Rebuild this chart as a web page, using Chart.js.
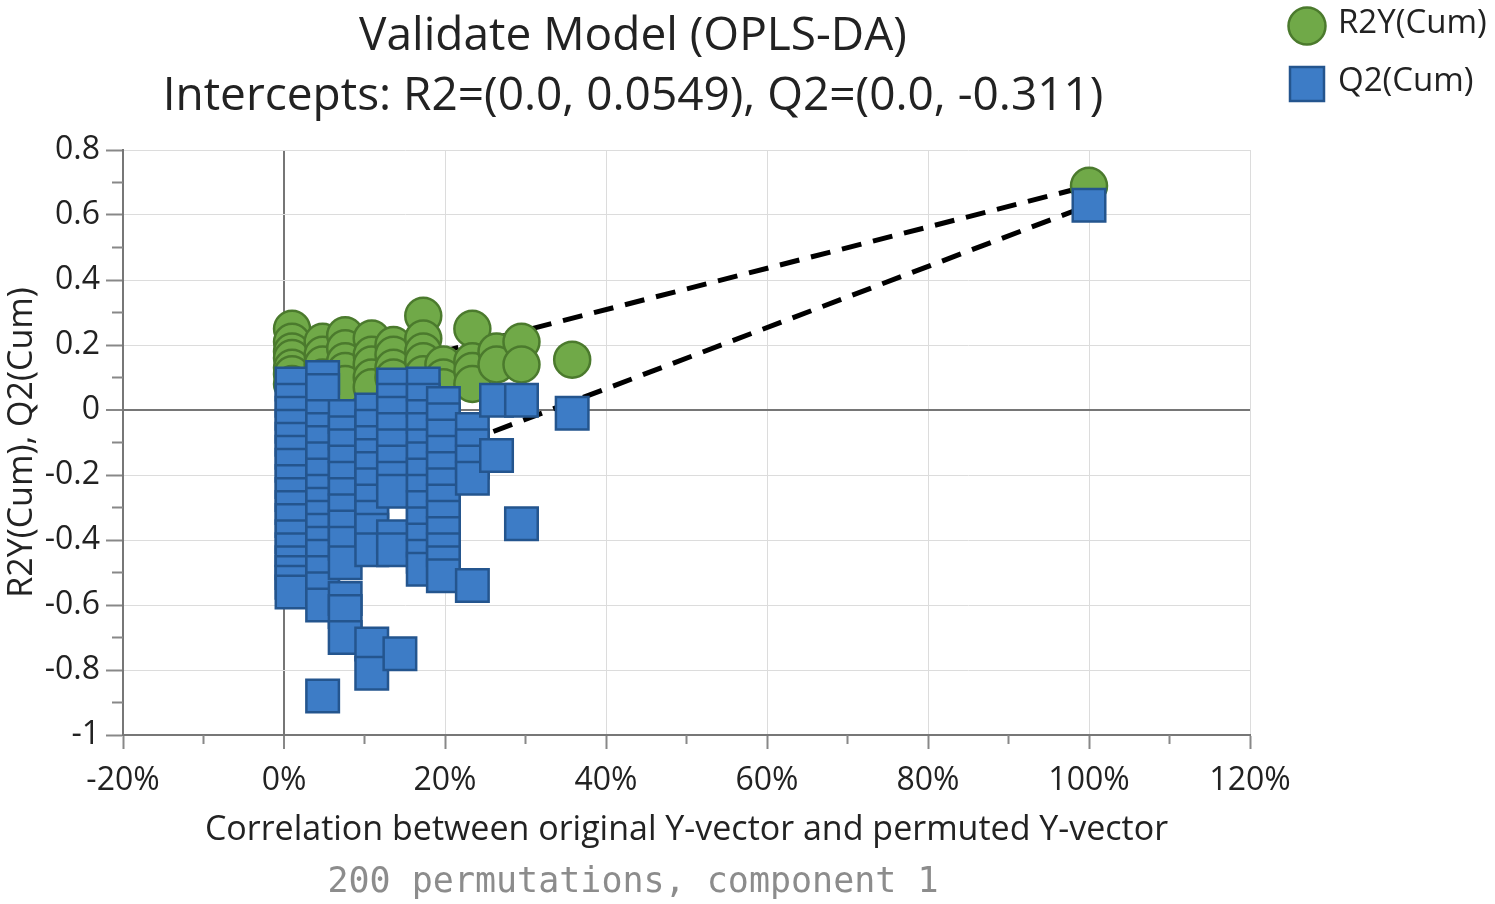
<!DOCTYPE html>
<html>
<head>
<meta charset="utf-8">
<title>Validate Model (OPLS-DA)</title>
<script src="https://cdn.jsdelivr.net/npm/chart.js"></script>
<style>
  html, body { margin: 0; padding: 0; background: #fff; }
  #wrap { position: relative; width: 1495px; height: 904px; }
</style>
</head>
<body>
<div id="wrap"><canvas id="chartValidate"></canvas></div>
<script>
// permutation results, x = correlation in %, y = value
const r2X = [1.0, 1.0, 1.0, 1.0, 1.0, 1.0, 1.0,
  4.8, 4.8, 4.8, 4.8,
  7.6, 7.6, 7.6, 7.6, 7.6,
  10.9, 10.9, 10.9, 10.9, 10.9,
  13.6, 13.6, 13.6, 13.6,
  17.3, 17.3, 17.3, 17.3, 17.3,
  19.8, 19.8, 19.8,
  23.4, 23.4, 23.4, 23.4,
  26.4, 26.4,
  29.5, 29.5,
  35.8,
  100];
const r2Y = [0.25, 0.21, 0.18, 0.16, 0.13, 0.11, 0.08,
  0.21, 0.17, 0.14, 0.10,
  0.23, 0.19, 0.15, 0.12, 0.08,
  0.22, 0.17, 0.14, 0.10, 0.07,
  0.20, 0.17, 0.13, 0.10,
  0.29, 0.22, 0.18, 0.15, 0.11,
  0.14, 0.10, 0.07,
  0.25, 0.15, 0.12, 0.08,
  0.18, 0.14,
  0.21, 0.14,
  0.155,
  0.69];

const q2X = [1.0, 1.0, 1.0, 1.0, 1.0, 1.0, 1.0, 1.0, 1.0, 1.0, 1.0, 1.0, 1.0, 1.0, 1.0, 1.0, 1.0,
  4.8, 4.8, 4.8, 4.8, 4.8, 4.8, 4.8, 4.8, 4.8, 4.8, 4.8, 4.8, 4.8, 4.8, 4.8, 4.8, 4.8,
  7.6, 7.6, 7.6, 7.6, 7.6, 7.6, 7.6, 7.6, 7.6, 7.6, 7.6, 7.6, 7.6,
  10.9, 10.9, 10.9, 10.9, 10.9, 10.9, 10.9, 10.9, 10.9, 10.9, 10.9, 10.9,
  13.6, 13.6, 13.6, 13.6, 13.6, 13.6, 13.6, 13.6, 13.6, 13.6,
  14.4,
  17.3, 17.3, 17.3, 17.3, 17.3, 17.3, 17.3, 17.3, 17.3, 17.3, 17.3, 17.3, 17.3,
  19.8, 19.8, 19.8, 19.8, 19.8, 19.8, 19.8, 19.8, 19.8, 19.8, 19.8, 19.8,
  23.4, 23.4, 23.4, 23.4, 23.4,
  26.4, 26.4,
  29.5, 29.5,
  35.8,
  100];
const q2Y = [0.08, 0.03, -0.01, -0.05, -0.09, -0.13, -0.17, -0.22, -0.26, -0.30, -0.34, -0.39, -0.43, -0.47, -0.50, -0.53, -0.56,
  0.10, 0.06, -0.02, -0.06, -0.10, -0.15, -0.20, -0.25, -0.29, -0.33, -0.37, -0.41, -0.45, -0.50, -0.55, -0.60, -0.88,
  -0.02, -0.07, -0.11, -0.16, -0.21, -0.26, -0.31, -0.36, -0.41, -0.47, -0.58, -0.62, -0.70,
  0.00, -0.05, -0.10, -0.14, -0.18, -0.23, -0.28, -0.33, -0.37, -0.43, -0.72, -0.81,
  0.077, 0.03, -0.01, -0.06, -0.11, -0.16, -0.21, -0.25, -0.39, -0.43,
  -0.75,
  0.08, 0.03, -0.02, -0.06, -0.11, -0.15, -0.20, -0.25, -0.30, -0.35, -0.40, -0.45, -0.49,
  0.02, -0.03, -0.08, -0.13, -0.18, -0.23, -0.28, -0.33, -0.38, -0.43, -0.47, -0.51,
  -0.06, -0.11, -0.16, -0.21, -0.54,
  0.03, -0.14,
  0.03, -0.35,
  -0.01,
  0.63];

const r2Intercept = 0.0549;
const q2Intercept = -0.311;

const xTicks = [-20, 0, 20, 40, 60, 80, 100, 120];
const yTicks = [-1, -0.8, -0.6, -0.4, -0.2, 0, 0.2, 0.4, 0.6, 0.8];

const titleLines = ["Validate Model (OPLS-DA)", "Intercepts: R2=(0.0, 0.0549), Q2=(0.0, -0.311)"];
const subtitle = "200 permutations, component 1";
const legendNames = ["R2Y(Cum)", "Q2(Cum)"];

const green = "#70a948";
const greenEdge = "#4b7a2d";
const blue = "#3d7cc6";
const blueEdge = "#24558e";

const toPoints = (xs, ys) => xs.map((x, i) => ({ x: x, y: ys[i] }));

const gridColor = (c) => c.tick && c.tick.value === 0 ? "#767676" : "#dcdcdc";
const gridWidth = (c) => c.tick && c.tick.value === 0 ? 2 : 1;

// title, subtitle and legend sit left of the plot, so draw them here
const headerPlugin = {
  id: "header",
  afterDraw(chart) {
    const ctx = chart.ctx;
    ctx.save();
    ctx.fillStyle = "#222";
    ctx.textAlign = "center";
    ctx.textBaseline = "alphabetic";
    ctx.font = '46px "Open Sans"';
    ctx.fillText(titleLines[0], 633, 50);
    ctx.fillText(titleLines[1], 633, 110);

    ctx.font = '35px "DejaVu Sans Mono"';
    ctx.fillStyle = "#8c8c8c";
    ctx.fillText(subtitle, 633, 892);

    // legend
    ctx.lineWidth = 2.5;
    ctx.fillStyle = green;
    ctx.strokeStyle = greenEdge;
    ctx.beginPath();
    ctx.arc(1307, 26, 18.5, 0, Math.PI * 2);
    ctx.fill();
    ctx.stroke();
    ctx.fillStyle = blue;
    ctx.strokeStyle = blueEdge;
    ctx.beginPath();
    ctx.rect(1290, 67, 34, 34);
    ctx.fill();
    ctx.stroke();

    ctx.fillStyle = "#222";
    ctx.textAlign = "left";
    ctx.font = '33px "Open Sans"';
    ctx.fillText(legendNames[0], 1338, 33);
    ctx.fillText(legendNames[1], 1338, 91);
    ctx.restore();
  }
};

// minor tick marks halfway between the labelled ones
const minorTicks = {
  id: "minorTicks",
  afterDraw(chart) {
    const ctx = chart.ctx;
    const area = chart.chartArea;
    const xs = chart.scales.x;
    const ys = chart.scales.y;
    ctx.save();
    ctx.strokeStyle = "#888";
    ctx.lineWidth = 2;
    ctx.beginPath();
    for (let i = 0; i < yTicks.length - 1; i++) {
      const py = ys.getPixelForValue((yTicks[i] + yTicks[i + 1]) / 2);
      ctx.moveTo(area.left - 11, py);
      ctx.lineTo(area.left, py);
    }
    for (let i = 0; i < xTicks.length - 1; i++) {
      const px = xs.getPixelForValue((xTicks[i] + xTicks[i + 1]) / 2);
      ctx.moveTo(px, area.bottom);
      ctx.lineTo(px, area.bottom + 9);
    }
    ctx.stroke();
    ctx.restore();
  }
};

const data = {
  datasets: [
    {
      label: legendNames[1],
      data: toPoints(q2X, q2Y),
      pointStyle: "rect",
      pointRadius: 23,
      backgroundColor: blue,
      borderColor: blueEdge,
      borderWidth: 2.5,
      order: 0
    },
    {
      label: legendNames[0],
      data: toPoints(r2X, r2Y),
      pointStyle: "circle",
      pointRadius: 18,
      backgroundColor: green,
      borderColor: greenEdge,
      borderWidth: 2.5,
      order: 1
    },
    {
      label: "R2 line",
      data: [{ x: 0, y: r2Intercept }, { x: r2X[r2X.length - 1], y: r2Y[r2Y.length - 1] }],
      showLine: true,
      pointRadius: 0,
      borderColor: "#000",
      borderWidth: 5,
      borderDash: [20, 12],
      order: 2
    },
    {
      label: "Q2 line",
      data: [{ x: 0, y: q2Intercept }, { x: q2X[q2X.length - 1], y: q2Y[q2Y.length - 1] }],
      showLine: true,
      pointRadius: 0,
      borderColor: "#000",
      borderWidth: 5,
      borderDash: [20, 12],
      order: 2
    }
  ]
};

const config = {
  type: "scatter",
  data: data,
  options: {
    responsive: false,
    animation: false,
    devicePixelRatio: 1,
    layout: { padding: { top: 150, right: 245, bottom: 49, left: 0 } },
    plugins: {
      legend: { display: false },
      tooltip: { enabled: false },
      title: { display: false }
    },
    scales: {
      x: {
        type: "linear",
        min: -20,
        max: 120,
        afterBuildTicks: (s) => { s.ticks = xTicks.map((v) => ({ value: v })); },
        afterFit: (s) => { s.height = 120; },
        ticks: {
          color: "#222",
          font: { family: "Open Sans", size: 32 },
          padding: 13,
          maxRotation: 0,
          callback: (v) => v + "%"
        },
        grid: { color: gridColor, lineWidth: gridWidth, tickLength: 14, tickColor: "#888", tickWidth: 2 },
        border: { color: "#777", width: 2 },
        title: {
          display: true,
          text: "Correlation between original Y-vector and permuted Y-vector",
          color: "#222",
          font: { family: "Open Sans", size: 34 },
          padding: { top: 0, bottom: 4 }
        }
      },
      y: {
        type: "linear",
        min: -1,
        max: 0.8,
        afterBuildTicks: (s) => { s.ticks = yTicks.map((v) => ({ value: v })); },
        afterFit: (s) => { s.width = 123; },
        ticks: {
          color: "#222",
          font: { family: "Open Sans", size: 32 },
          padding: 6,
          callback: (v) => String(Math.round(v * 10) / 10)
        },
        grid: { color: gridColor, lineWidth: gridWidth, tickLength: 17, tickColor: "#888", tickWidth: 2 },
        border: { color: "#777", width: 2 },
        title: {
          display: true,
          text: "R2Y(Cum), Q2(Cum)",
          color: "#222",
          font: { family: "Open Sans", size: 34 },
          padding: { top: 2, bottom: 0 }
        }
      }
    }
  },
  plugins: [headerPlugin, minorTicks]
};

const canvas = document.getElementById("chartValidate");
canvas.width = 1495;
canvas.height = 904;
const myChart = new Chart(canvas, config);
</script>
</body>
</html>
